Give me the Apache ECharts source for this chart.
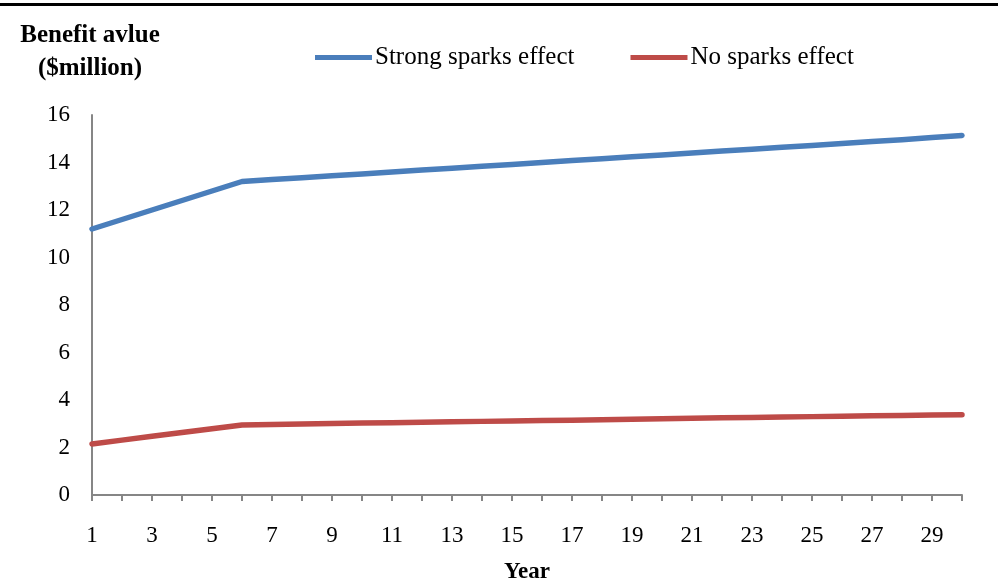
<!DOCTYPE html>
<html>
<head>
<meta charset="utf-8">
<script src="https://cdn.jsdelivr.net/npm/echarts@6/dist/echarts.min.js"></script>
<style>
  html, body { margin: 0; padding: 0; background: #fff; }
  #chart { width: 998px; height: 586px; }
</style>
</head>
<body>
<div id="chart"></div>
<script>
// Years on the horizontal axis
const years = [1,2,3,4,5,6,7,8,9,10,11,12,13,14,15,16,17,18,19,20,21,22,23,24,25,26,27,28,29,30];

// Benefit value ($million) per year
const strongSparks = [11.2, 11.6, 12.0, 12.4, 12.8, 13.2, 13.28, 13.36, 13.44, 13.52,
  13.6, 13.68, 13.76, 13.84, 13.92, 14.0, 14.08, 14.16, 14.24, 14.32,
  14.4, 14.48, 14.56, 14.64, 14.72, 14.8, 14.88, 14.96, 15.05, 15.14];
const noSparks = [2.15, 2.31, 2.47, 2.63, 2.79, 2.95, 2.97, 2.99, 3.01, 3.03,
  3.04, 3.06, 3.08, 3.1, 3.12, 3.14, 3.15, 3.17, 3.19, 3.21,
  3.23, 3.25, 3.26, 3.28, 3.3, 3.32, 3.34, 3.35, 3.37, 3.38];

const seriesNames = ['Strong sparks effect', 'No sparks effect'];
const seriesColors = ['#4A7EBB', '#BE4B48'];

const FONT = '"Liberation Serif", "DejaVu Serif", serif';
const AXIS_GREY = '#868686';

const chart = echarts.init(document.getElementById('chart'), null, { renderer: 'canvas' });

chart.setOption({
  animation: false,
  backgroundColor: '#fff',
  textStyle: { fontFamily: FONT, color: '#000' },
  graphic: [
    {
      type: 'rect',
      shape: { x: 0, y: 3, width: 998, height: 3 },
      style: { fill: '#000' }
    },
    {
      type: 'text',
      x: 90, y: 19,
      style: {
        text: 'Benefit avlue\n($million)',
        font: 'bold 25px ' + FONT,
        fill: '#000',
        align: 'center',
        verticalAlign: 'top',
        lineHeight: 33
      }
    }
  ],
  legend: {
    left: 315,
    top: 45,
    padding: 0,
    itemWidth: 57,
    itemHeight: 5,
    itemGap: 56,
    icon: 'rect',
    textStyle: { fontFamily: FONT, fontSize: 25, color: '#000', padding: [0, 0, 0, -2] },
    data: seriesNames
  },
  grid: { left: 92, right: 36, top: 115, bottom: 91, containLabel: false, outerBoundsMode: 'none' },
  xAxis: {
    type: 'category',
    data: years,
    boundaryGap: false,
    name: 'Year',
    nameLocation: 'middle',
    nameGap: 66,
    nameTextStyle: { fontFamily: FONT, fontWeight: 'bold', fontSize: 23, color: '#000' },
    axisLine: { lineStyle: { color: AXIS_GREY, width: 2 } },
    axisTick: { show: true, length: 6, interval: 0, alignWithLabel: true, lineStyle: { color: AXIS_GREY, width: 2 } },
    axisLabel: { interval: 1, margin: 29, fontFamily: FONT, fontSize: 23, color: '#000' },
    splitLine: { show: false }
  },
  yAxis: {
    type: 'value',
    min: 0,
    max: 16,
    interval: 2,
    axisLine: { show: true, lineStyle: { color: AXIS_GREY, width: 2 } },
    axisTick: { show: false },
    axisLabel: { margin: 22, fontFamily: FONT, fontSize: 23, color: '#000' },
    splitLine: { show: false }
  },
  series: [
    {
      name: seriesNames[0],
      type: 'line',
      data: strongSparks,
      symbol: 'none',
      color: seriesColors[0],
      lineStyle: { width: 5.5, color: seriesColors[0], cap: 'round', join: 'round' }
    },
    {
      name: seriesNames[1],
      type: 'line',
      data: noSparks,
      symbol: 'none',
      color: seriesColors[1],
      lineStyle: { width: 5.5, color: seriesColors[1], cap: 'round', join: 'round' }
    }
  ]
});
</script>
</body>
</html>
